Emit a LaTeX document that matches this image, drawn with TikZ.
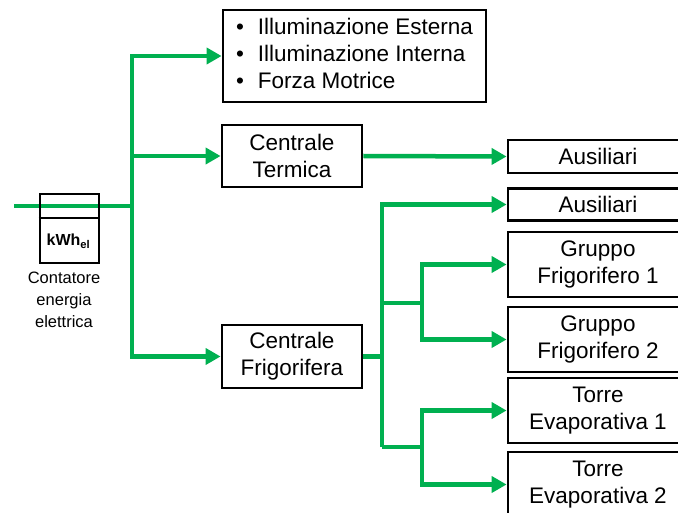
\documentclass[tikz,border=0pt]{standalone}
\usepackage{fontspec}
\setmainfont{Liberation Sans}
\usetikzlibrary{arrows.meta}
\definecolor{flowgreen}{RGB}{0,176,80}

\begin{document}
\begin{tikzpicture}
[x=1pt,y=-1pt,
box/.style={rectangle,draw=black,line width=2.8pt,fill=white,inner sep=0pt,align=center,font=\fontsize{22.5}{27}\selectfont},
flow/.style={draw=flowgreen,line width=4.5pt},
tip/.style={flow,-{Triangle[length=15pt,width=16pt]}}]
\useasboundingbox (0,0) rectangle (678,513);
\clip (0,0) rectangle (678,513);

% junctions
\coordinate (in) at (14,206);
\coordinate (trunk) at (132,206);
\coordinate (fj) at (382,356.5);
\coordinate (gj1) at (382,303);
\coordinate (gj2) at (422,303);
\coordinate (tj1) at (382,447);
\coordinate (tj2) at (422,447);

\draw[flow] (in) -- (trunk);

% meter
\node[draw=black,line width=2.8pt,minimum width=59pt,minimum height=69pt,inner sep=0pt] (meter) at (69.5,228.5) {};
\draw[line width=2.8pt] (meter.west |- 0,218) -- (meter.east |- 0,218);
\node[inner sep=0pt,font=\fontsize{16}{18}\selectfont\bfseries] (kwh) at (68.5,241) {kWh\textsubscript{el}};
\node[inner sep=0pt,align=center,font=\fontsize{16.5}{22}\selectfont] (meterlbl) at (64,300) {Contatore\\energia\\elettrica};

% boxes
\node[box,minimum width=263pt,minimum height=92pt] (uses) at (354.5,56) {\begin{tabular}{@{}l@{\hspace{14pt}}l@{}}
\textbullet & Illuminazione Esterna\\
\textbullet & Illuminazione Interna\\
\textbullet & Forza Motrice
\end{tabular}};
\node[box,minimum width=140pt,minimum height=62pt] (term) at (292,156) {Centrale\\Termica};
\node[box,minimum width=140pt,minimum height=63pt] (frig) at (292,356.5) {Centrale\\Frigorifera};
\node[box,minimum width=180pt,minimum height=33pt] (aus1) at (598,156.5) {Ausiliari};
\node[box,minimum width=180pt,minimum height=32pt] (aus2) at (598,204.5) {Ausiliari};
\node[box,minimum width=180pt,minimum height=65pt] (gr1) at (598,264.5) {Gruppo\\Frigorifero 1};
\node[box,minimum width=180pt,minimum height=65pt] (gr2) at (598,339.5) {Gruppo\\Frigorifero 2};
\node[box,minimum width=180pt,minimum height=65pt] (tor1) at (598,410.5) {Torre\\Evaporativa 1};
\node[box,minimum width=180pt,minimum height=65pt] (tor2) at (598,484.5) {Torre\\Evaporativa 2};

% connectors
\draw[tip] (trunk) |- (uses.west);
\draw[tip] (trunk) |- (term.west);
\draw[tip] (trunk) |- (frig.west);
\draw[tip] (term.east) -- (aus1.west);
\draw[flow] (frig.east) -- (fj) -- (tj1);
\draw[tip] (fj) |- (aus2.west);
\draw[flow] (gj1) -- (gj2);
\draw[tip] (gj2) |- (gr1.west);
\draw[tip] (gj2) |- (gr2.west);
\draw[flow] (tj1) -- (tj2);
\draw[tip] (tj2) |- (tor1.west);
\draw[tip] (tj2) |- (tor2.west);
\end{tikzpicture}
\end{document}
